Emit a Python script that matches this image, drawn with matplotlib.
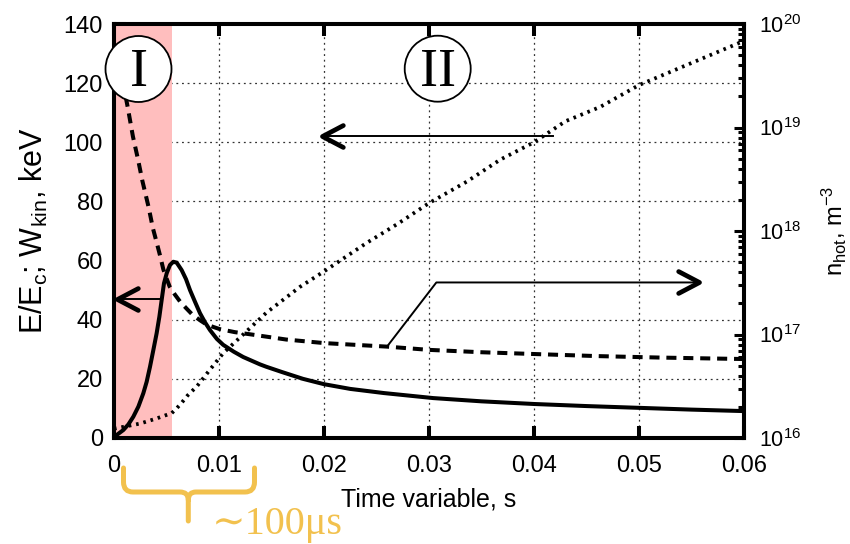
import numpy as np
import matplotlib
matplotlib.use('Agg')
import matplotlib.pyplot as plt
from matplotlib.path import Path
from matplotlib.markers import MarkerStyle
from matplotlib.patches import Ellipse, PathPatch
from matplotlib.transforms import Affine2D

plt.rcParams['font.family'] = ['Liberation Sans', 'DejaVu Sans']
plt.rcParams['mathtext.fontset'] = 'custom'
plt.rcParams['mathtext.rm'] = 'Liberation Sans'
plt.rcParams['mathtext.it'] = 'Liberation Sans:italic'
plt.rcParams['mathtext.bf'] = 'Liberation Sans:bold'

# ---------------- data ----------------
# kinetic energy W_kin, keV (solid, left axis)
t_wkin = [0.0, 0.00025, 0.00089, 0.00137, 0.00184, 0.00232, 0.00279, 0.00311,
          0.00343, 0.00375, 0.00406, 0.00432, 0.00454, 0.00476, 0.00502, 0.00533,
          0.00565, 0.00597, 0.00644, 0.00686, 0.00724, 0.00771, 0.00819, 0.00867,
          0.00914, 0.0098, 0.0104, 0.0114, 0.0123, 0.0139, 0.0145, 0.016, 0.018,
          0.020, 0.0225, 0.0257, 0.0304, 0.035, 0.040, 0.045, 0.050, 0.055, 0.060]
w_kin = [0.0, 1.0, 2.7, 4.6, 7.2, 10.6, 15.1, 19.0,
         24.1, 29.8, 35.4, 41.0, 46.7, 52.3, 55.7, 58.5,
         59.6, 59.3, 56.8, 53.7, 50.0, 46.1, 42.2, 39.1,
         36.5, 33.5, 31.5, 29.2, 27.4, 24.9, 24.1, 22.3, 20.0,
         18.2, 16.6, 15.2, 13.5, 12.4, 11.5, 10.8, 10.2, 9.6, 9.1]

# E/E_c (dashed, left axis)
t_ratio = [0.0008, 0.0013, 0.0018, 0.0023, 0.0027, 0.0033, 0.0037, 0.0040,
           0.0044, 0.0047, 0.0050, 0.0053, 0.0058, 0.0063, 0.0069, 0.0075,
           0.0082, 0.0088, 0.0095, 0.0101, 0.0115, 0.0133, 0.0164, 0.020,
           0.026, 0.030, 0.035, 0.040, 0.046, 0.052, 0.060]
e_ratio = [121, 112, 102, 94, 87, 78, 71, 67,
           61.5, 57, 54, 51.2, 48.5, 46.1, 43.8, 41.6,
           39.8, 38.4, 37.5, 36.8, 35.8, 34.9, 33.3, 32.1,
           30.9, 29.8, 29.0, 28.4, 27.7, 27.2, 26.7]

# n_hot, m^-3 (dotted, right log axis)
t_nhot = [0.0, 0.0025, 0.0041, 0.0055, 0.0060, 0.0064, 0.0070, 0.0079, 0.0091,
          0.0104, 0.0123, 0.0145, 0.0177, 0.020, 0.024, 0.027, 0.030, 0.0336,
          0.0368, 0.040, 0.043, 0.0463, 0.050, 0.055, 0.0596, 0.060]
n_hot = [1.23e16, 1.38e16, 1.55e16, 1.74e16, 1.95e16, 2.16e16, 2.57e16, 3.16e16, 4.52e16,
         6.6e16, 1.0e17, 1.62e17, 2.88e17, 4.07e17, 7.6e17, 1.17e18, 1.86e18, 3.0e18,
         4.9e18, 7.2e18, 1.15e19, 1.58e19, 2.57e19, 4.2e19, 6.6e19, 6.9e19]

phase1_end = 0.0055

x_ticks = [0.0, 0.01, 0.02, 0.03, 0.04, 0.05, 0.06]
x_ticklabels = ['0', '0.01', '0.02', '0.03', '0.04', '0.05', '0.06']
y_ticks = [0, 20, 40, 60, 80, 100, 120, 140]
y2_ticks = [1e16, 1e17, 1e18, 1e19, 1e20]

# annotation arrows (data coords of left axis)
arrow_left1_x = [0.00457, 0.0003]
arrow_left1_y = [47.0, 47.0]
arrow_left2_x = [0.0418, 0.0198]
arrow_left2_y = [102.0, 102.0]
arrow_right_x = [0.0260, 0.0307, 0.0557]
arrow_right_y = [30.9, 52.6, 52.6]

W, H = 850, 544
fig = plt.figure(figsize=(W / 100, H / 100), dpi=100)
L, R, T, B = 114, 744, 24, 438
ax = fig.add_axes([L / W, 1 - B / H, (R - L) / W, (B - T) / H])
ax2 = ax.twinx()

# grid + shading
ax.set_axisbelow(True)
ax.grid(True, color='#333333', lw=0.9, linestyle=(0, (1.5, 3)))
ax.axvspan(0, phase1_end, color='#FFBEBE', lw=0, zorder=1)

# curves
ax.plot(t_wkin, w_kin, color='k', lw=2.9, zorder=3, solid_joinstyle='round')
ax.plot(t_ratio, e_ratio, color='k', lw=2.9, linestyle=(0, (2.5, 1.7)), zorder=3)
ax2.plot(t_nhot, n_hot, color='k', lw=2.7, linestyle=(0, (0.7, 1.3)), zorder=3)

# axes limits/ticks
ax.set_xlim(0, 0.06)
ax.set_ylim(0, 140)
ax.set_xticks(x_ticks)
ax.set_xticklabels(x_ticklabels)
ax.set_yticks(y_ticks)
ax.set_yticklabels([str(v) for v in y_ticks])
ax2.set_yscale('log')
ax2.set_ylim(1e16, 1e20)
ax2.set_yticks(y2_ticks)

ax.tick_params(axis='both', which='major', direction='in', length=8.5, width=2.9,
               labelsize=17, top=True)
ax.tick_params(axis='x', pad=12)
ax.tick_params(axis='y', pad=8)
ax2.tick_params(axis='y', which='major', direction='in', length=7, width=2.2,
                labelsize=15.5, pad=11)
ax2.tick_params(axis='y', which='minor', direction='in', length=4, width=2.2)
for sp in list(ax.spines.values()) + list(ax2.spines.values()):
    sp.set_linewidth(2.9)

ax.set_ylabel(r'E/E$_\mathrm{c}$; W$_\mathrm{kin}$, keV', fontsize=22, labelpad=10)
ax2.set_ylabel(r'n$_\mathrm{hot}$, m$^{-3}$', fontsize=17, labelpad=13)
ax.set_xlabel('Time variable, s', fontsize=18, labelpad=8)

# arrows
def head(direction):
    s = 1 if direction == 'left' else -1
    p = Path([(s * 20, 10.5), (0, 0), (s * 20, -10.5)], [Path.MOVETO, Path.LINETO, Path.LINETO])
    return MarkerStyle(p, fillstyle='none', joinstyle='round', capstyle='round')

for xs, ys, d in [(arrow_left1_x, arrow_left1_y, 'left'),
                  (arrow_left2_x, arrow_left2_y, 'left'),
                  (arrow_right_x, arrow_right_y, 'right')]:
    ax.plot(xs, ys, color='k', lw=1.4, zorder=4)
    ax.plot([xs[-1]], [ys[-1]], marker=head(d), ms=30, mec='k', mew=3.4,
            ls='none', zorder=4)

# phase circles
aw, ah = (R - L), (B - T)
for cx, cy, lab in [(138.5, 69, 'I'), (437.7, 68.7, 'II')]:
    e = Ellipse(((cx - L) / aw, (B - cy) / ah), 66 / aw, 66 / ah,
                transform=ax2.transAxes, facecolor='white', edgecolor='k',
                lw=1.3, zorder=10, clip_on=False)
    ax2.add_patch(e)
    ax2.text((cx - L) / aw, (B - 86) / ah, lab, transform=ax2.transAxes,
             ha='center', va='baseline', fontsize=39,
             family=['Liberation Serif', 'DejaVu Serif'], zorder=11)

# brace below axis (pixel coords)
pix = Affine2D().scale(1 / W, -1 / H).translate(0, 1) + fig.transFigure
verts = [(123.5, 468), (123.5, 482), (123.5, 492), (133, 492), (180, 492),
         (188.3, 492), (188.3, 500), (188.3, 521),
         (188.3, 500), (188.3, 492), (196, 492), (245, 492),
         (254.5, 492), (254.5, 482), (254.5, 468)]
codes = [Path.MOVETO, Path.LINETO, Path.CURVE3, Path.CURVE3, Path.LINETO,
         Path.CURVE3, Path.CURVE3, Path.LINETO,
         Path.MOVETO, Path.CURVE3, Path.CURVE3, Path.LINETO,
         Path.CURVE3, Path.CURVE3, Path.LINETO]
gold = '#F2C14E'
fig.add_artist(PathPatch(Path(verts, codes), transform=pix, facecolor='none',
                         edgecolor=gold, lw=3.6, capstyle='round', joinstyle='round'))
fig.text(212 / W, 1 - 534 / H, '\u223c100\u03bcs', color=gold, fontsize=29,
         family=['Liberation Serif', 'DejaVu Serif'], ha='left', va='baseline')

fig.savefig('out.png', dpi=100)
